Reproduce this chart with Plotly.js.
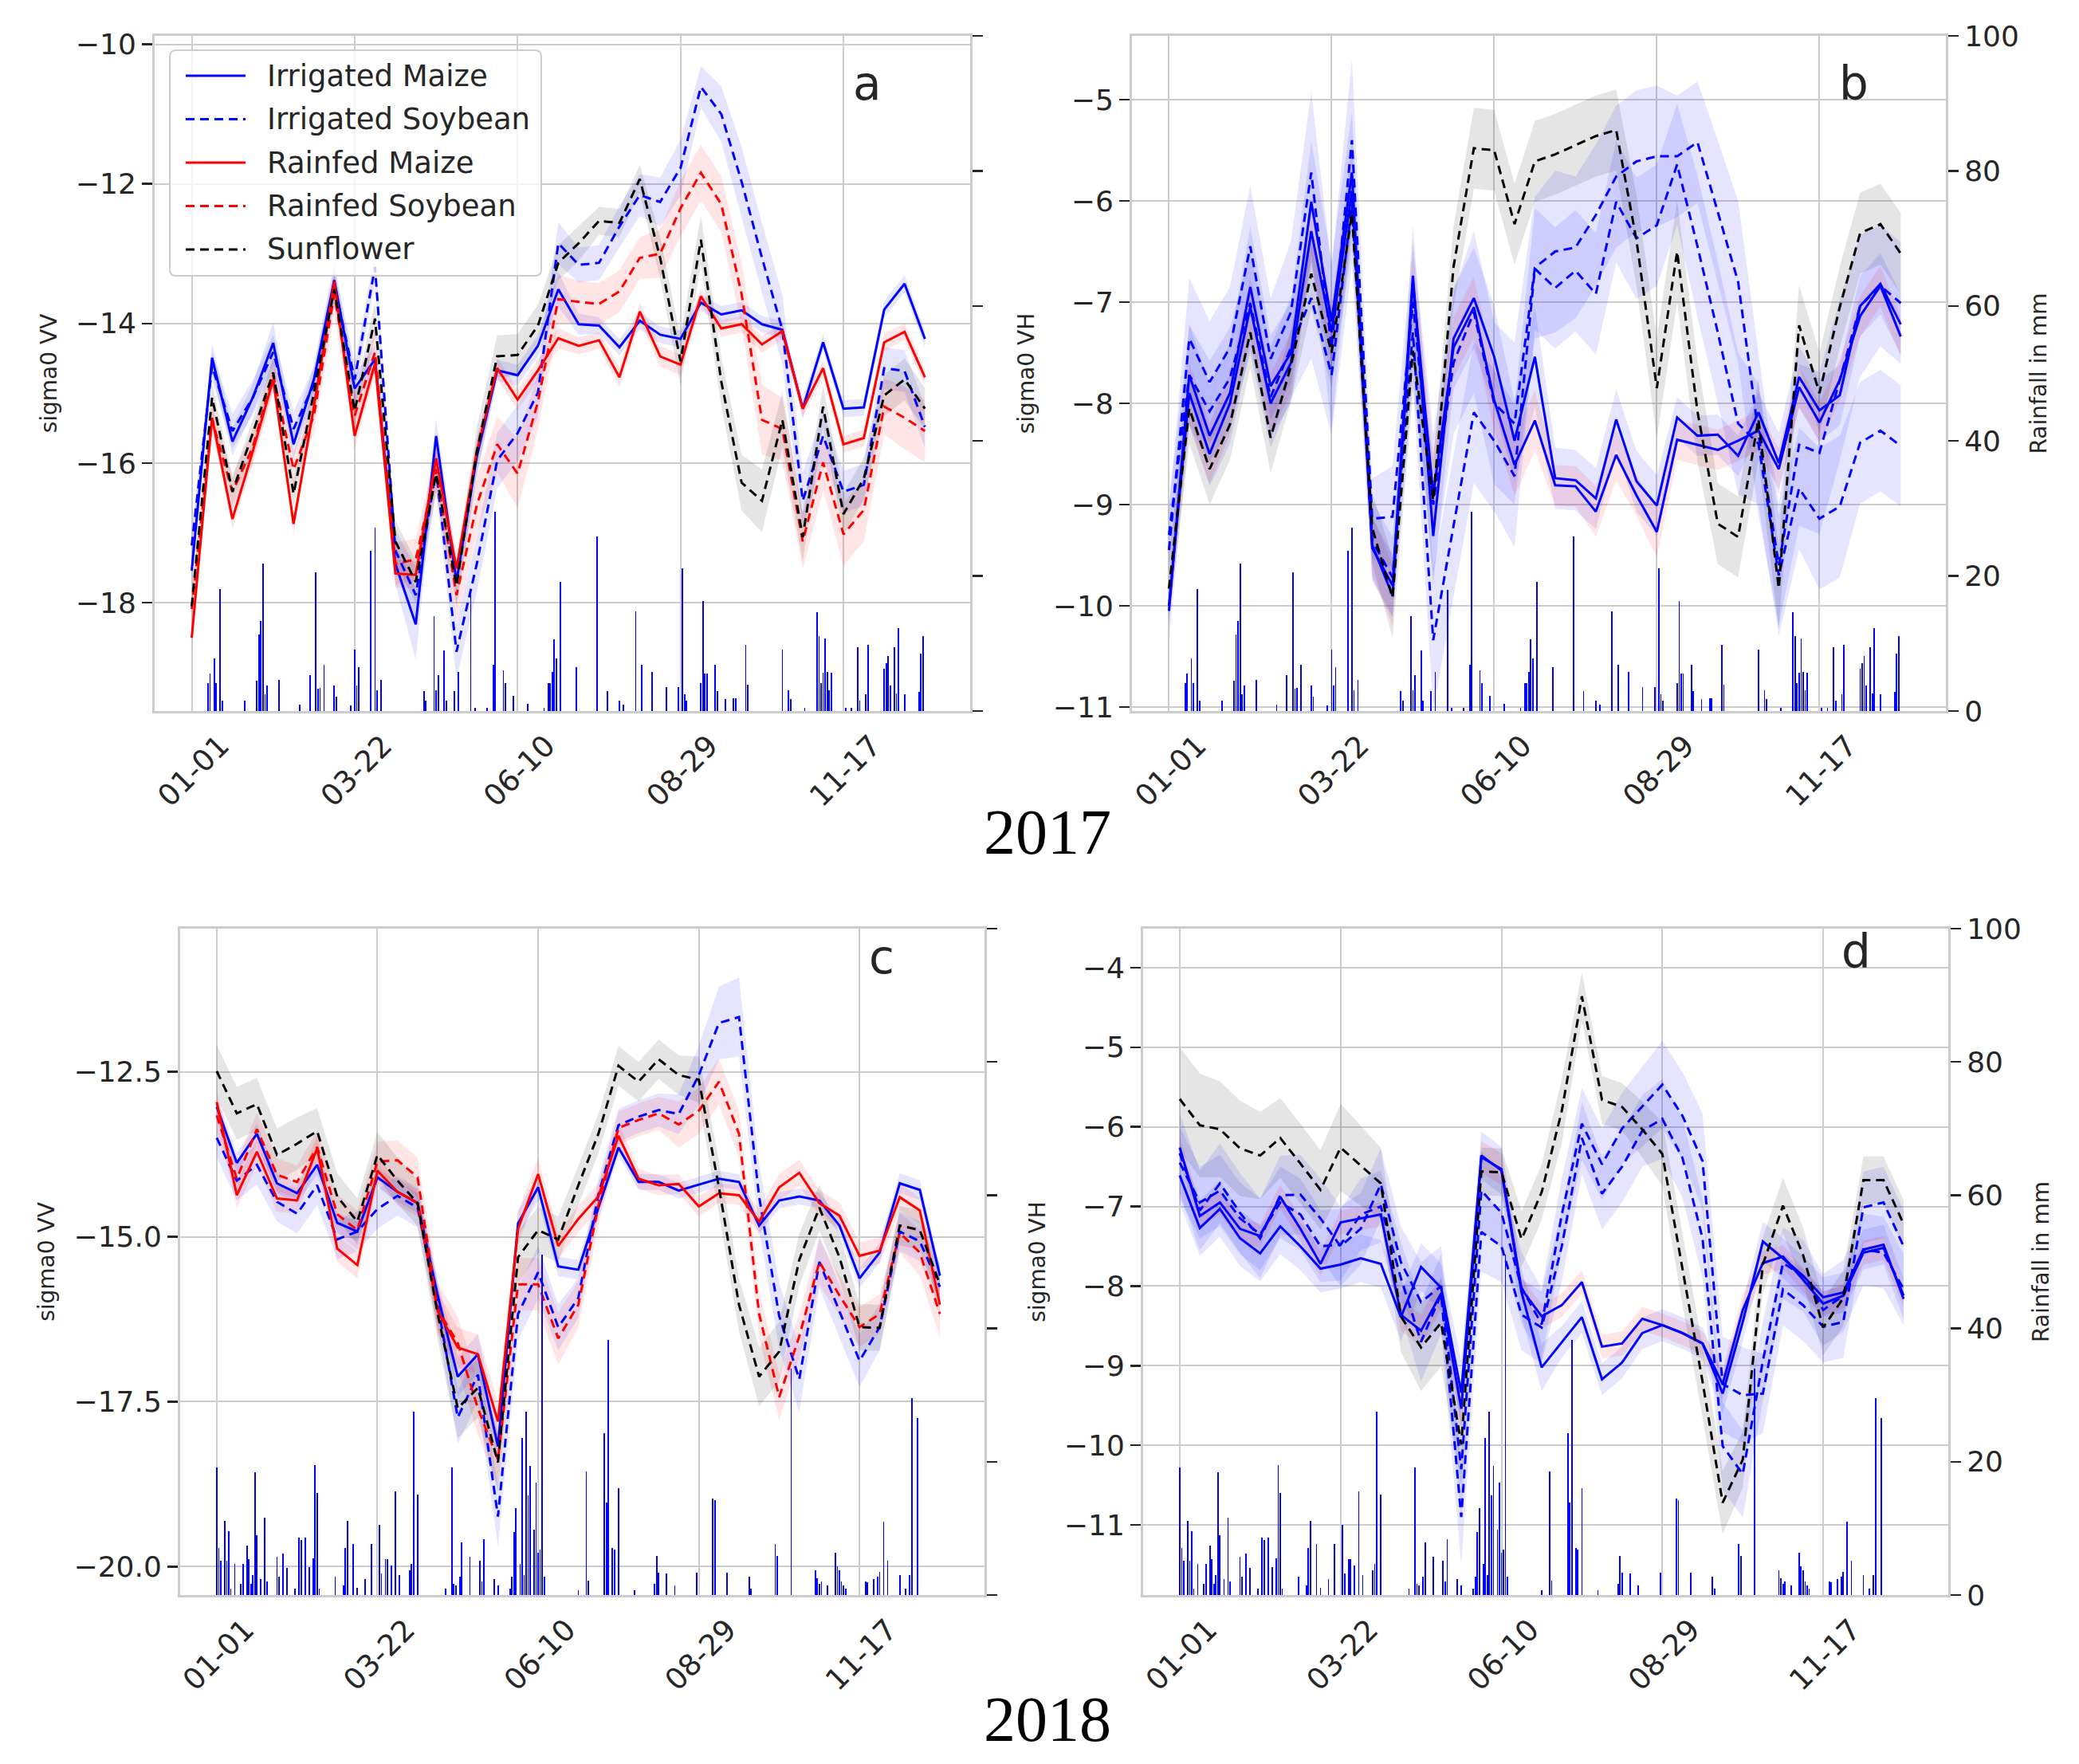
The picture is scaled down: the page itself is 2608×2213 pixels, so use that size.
<!DOCTYPE html>
<html>
<head>
<meta charset="utf-8">
<script src="https://cdn.plot.ly/plotly-3.0.1.min.js"></script>
<style>
  html, body { margin: 0; padding: 0; background: #fff; }
  #chart { width: 2608px; height: 2213px; }
</style>
</head>
<body>
<div id="chart"></div>
<script>
'use strict';

// day of year of each composite (10-day steps)
const dates = [0,10,20,30,40,50,60,70,80,90,100,110,120,130,140,150,160,170,180,190,200,210,220,230,240,250,260,270,280,290,300,310,320,330,340,350,360];
const tickDays = [0, 80, 160, 240, 320];
const tickText = ['01-01', '03-22', '06-10', '08-29', '11-17'];

// ---- 2017, sigma0 VV (panel a)
const a_im = [-17.54,-14.49,-15.69,-15.06,-14.28,-15.73,-14.80,-13.38,-14.93,-14.51,-17.44,-18.31,-15.61,-17.70,-15.90,-14.67,-14.74,-14.32,-13.51,-14.01,-14.03,-14.34,-13.96,-14.16,-14.22,-13.70,-13.87,-13.81,-14.01,-14.09,-15.22,-14.27,-15.22,-15.20,-13.80,-13.43,-14.22];
const a_is = [-17.18,-14.61,-15.54,-15.06,-14.41,-15.51,-14.87,-13.45,-14.80,-13.19,-17.25,-17.89,-16.09,-18.70,-17.44,-15.96,-15.57,-14.99,-12.85,-13.16,-13.13,-12.61,-12.16,-12.26,-11.77,-10.61,-11.00,-11.97,-13.06,-14.09,-16.54,-15.61,-16.41,-16.31,-14.64,-14.68,-15.48];
const a_rm = [-18.50,-15.35,-16.80,-15.83,-14.80,-16.87,-15.19,-13.40,-15.61,-14.57,-17.58,-17.60,-15.93,-17.51,-15.83,-14.64,-15.09,-14.67,-14.21,-14.32,-14.24,-14.77,-13.83,-14.47,-14.59,-13.61,-14.07,-14.01,-14.30,-14.11,-15.22,-14.64,-15.73,-15.64,-14.27,-14.12,-14.77];
const a_rs = [-18.09,-15.38,-16.41,-15.77,-14.74,-16.09,-15.32,-13.58,-15.32,-14.41,-17.44,-17.38,-16.09,-17.89,-16.60,-15.73,-16.15,-15.12,-13.65,-13.69,-13.72,-13.54,-13.06,-13.00,-12.35,-11.84,-12.29,-13.58,-15.38,-15.51,-17.12,-15.99,-17.02,-16.67,-15.19,-15.35,-15.54];
const a_sf = [-18.05,-15.06,-16.41,-15.57,-14.70,-16.44,-14.99,-13.51,-15.25,-13.93,-17.12,-17.70,-16.15,-17.76,-15.83,-14.47,-14.45,-14.03,-13.13,-12.85,-12.53,-12.56,-11.93,-13.06,-14.54,-12.80,-14.83,-16.28,-16.54,-15.38,-17.06,-15.19,-16.73,-16.22,-15.03,-14.80,-15.22];
const a_im_sd = [0.25,0.2,0.2,0.2,0.3,0.2,0.2,0.25,0.2,0.2,0.3,0.5,0.25,0.3,0.25,0.15,0.15,0.15,0.25,0.15,0.12,0.12,0.12,0.12,0.12,0.12,0.12,0.12,0.12,0.12,0.15,0.12,0.12,0.12,0.12,0.12,0.12];
const a_is_sd = [0.25,0.2,0.25,0.25,0.25,0.25,0.25,0.25,0.25,0.2,0.3,0.4,0.3,0.4,0.4,0.4,0.4,0.35,0.3,0.25,0.25,0.3,0.3,0.35,0.4,0.3,0.4,0.5,0.5,0.5,0.4,0.35,0.3,0.3,0.3,0.3,0.3];
const a_rm_sd = [0.15,0.15,0.15,0.15,0.15,0.15,0.15,0.15,0.2,0.15,0.2,0.2,0.2,0.2,0.2,0.15,0.15,0.15,0.15,0.12,0.12,0.15,0.12,0.15,0.15,0.12,0.12,0.12,0.12,0.12,0.12,0.12,0.12,0.12,0.12,0.12,0.12];
const a_rs_sd = [0.25,0.2,0.25,0.25,0.25,0.25,0.25,0.3,0.3,0.3,0.3,0.3,0.3,0.4,0.4,0.4,0.5,0.4,0.35,0.3,0.3,0.3,0.3,0.35,0.4,0.4,0.4,0.45,0.5,0.45,0.4,0.4,0.45,0.45,0.4,0.45,0.45];
const a_sf_sd = [0.2,0.2,0.2,0.2,0.2,0.2,0.2,0.2,0.2,0.25,0.3,0.3,0.3,0.3,0.35,0.3,0.3,0.3,0.25,0.25,0.2,0.2,0.2,0.3,0.35,0.35,0.35,0.4,0.45,0.4,0.35,0.3,0.3,0.3,0.3,0.3,0.3];

// ---- 2017, sigma0 VH (panel b)
const b_im = [-10.05,-7.72,-8.32,-7.90,-6.85,-7.83,-7.50,-6.01,-7.19,-5.72,-9.43,-9.80,-6.74,-9.31,-7.36,-6.96,-7.54,-8.37,-7.54,-8.74,-8.76,-8.94,-8.16,-8.77,-9.01,-8.14,-8.32,-8.31,-8.52,-8.09,-8.59,-7.74,-8.07,-7.92,-7.04,-6.82,-7.22];
const b_is = [-9.45,-7.36,-7.79,-7.45,-6.45,-7.56,-7.10,-5.72,-7.45,-5.40,-9.14,-9.12,-7.00,-9.00,-7.60,-7.10,-8.00,-8.20,-6.66,-6.50,-6.46,-6.14,-5.76,-5.61,-5.56,-5.56,-5.42,-6.10,-6.80,-8.30,-9.60,-8.41,-8.49,-7.77,-7.04,-6.84,-7.01];
const b_rm = [-10.00,-7.90,-8.50,-8.00,-7.05,-8.00,-7.60,-6.30,-7.30,-5.90,-9.40,-9.90,-6.80,-8.90,-7.45,-7.05,-7.97,-8.61,-8.17,-8.81,-8.82,-9.07,-8.51,-8.91,-9.27,-8.36,-8.41,-8.46,-8.37,-8.27,-8.65,-7.84,-8.19,-7.77,-7.14,-6.84,-7.34];
const b_rs = [-9.30,-7.72,-8.08,-7.75,-7.01,-7.94,-7.45,-6.96,-7.72,-6.03,-9.36,-9.72,-7.30,-10.34,-9.21,-8.09,-8.37,-8.72,-6.67,-6.86,-6.69,-6.92,-6.01,-6.37,-6.24,-5.64,-6.45,-7.30,-8.20,-8.40,-9.70,-8.84,-9.14,-9.02,-8.39,-8.27,-8.42];
const b_sf = [-9.83,-8.05,-8.65,-8.21,-7.30,-8.34,-7.63,-6.72,-7.50,-6.12,-9.23,-9.92,-7.48,-8.96,-6.65,-5.48,-5.50,-6.23,-5.61,-5.54,-5.45,-5.36,-5.30,-6.39,-7.85,-6.50,-8.08,-9.19,-9.32,-8.16,-9.83,-7.23,-7.90,-7.05,-6.32,-6.23,-6.52];
const b_im_sd = [0.3,0.5,0.5,0.5,0.6,0.5,0.5,0.6,0.6,0.6,0.3,0.3,0.5,0.5,0.5,0.5,0.5,0.4,0.5,0.3,0.3,0.3,0.3,0.3,0.3,0.2,0.2,0.2,0.2,0.2,0.3,0.3,0.3,0.3,0.3,0.3,0.3];
const b_is_sd = [0.4,0.6,0.6,0.6,0.6,0.6,0.7,0.8,0.8,0.8,0.4,0.5,0.6,0.7,0.7,0.8,0.8,0.8,0.7,0.8,0.7,0.7,0.7,0.7,0.7,0.6,0.6,0.7,0.8,0.8,0.6,0.8,0.8,0.8,0.7,0.6,0.6];
const b_rm_sd = [0.2,0.3,0.3,0.3,0.3,0.3,0.3,0.3,0.3,0.3,0.3,0.3,0.3,0.4,0.3,0.3,0.3,0.3,0.3,0.2,0.2,0.25,0.25,0.2,0.25,0.2,0.2,0.2,0.2,0.2,0.2,0.2,0.2,0.2,0.2,0.2,0.2];
const b_rs_sd = [0.3,0.5,0.5,0.5,0.5,0.5,0.5,0.6,0.6,0.6,0.4,0.4,0.5,0.7,0.7,0.7,0.7,0.7,0.6,0.6,0.6,0.6,0.6,0.6,0.6,0.6,0.7,0.7,0.7,0.6,0.6,0.6,0.7,0.7,0.6,0.6,0.6];
const b_sf_sd = [0.3,0.35,0.35,0.35,0.35,0.35,0.35,0.35,0.35,0.35,0.35,0.4,0.4,0.4,0.4,0.4,0.4,0.4,0.4,0.4,0.4,0.4,0.4,0.45,0.5,0.5,0.5,0.4,0.4,0.4,0.4,0.4,0.4,0.4,0.4,0.4,0.4];

// ---- 2018, sigma0 VV (panel c)
const c_im = [-13.03,-13.88,-13.44,-14.19,-14.34,-13.91,-14.79,-14.92,-14.10,-14.32,-14.49,-15.89,-17.12,-16.78,-18.18,-14.80,-14.25,-15.45,-15.50,-14.56,-13.65,-14.17,-14.17,-14.30,-14.21,-14.12,-14.17,-14.83,-14.45,-14.39,-14.45,-14.83,-15.63,-15.24,-14.19,-14.29,-15.59];
const c_is = [-13.50,-14.15,-13.91,-14.47,-14.65,-14.22,-15.04,-14.92,-14.58,-14.38,-14.56,-16.03,-17.74,-17.09,-19.24,-16.17,-15.54,-16.37,-15.93,-14.36,-13.31,-13.18,-13.08,-13.14,-12.55,-11.76,-11.67,-14.39,-16.20,-17.16,-15.38,-16.13,-16.88,-16.37,-14.92,-15.07,-15.76];
const c_rm = [-12.96,-14.37,-13.71,-14.42,-14.45,-13.66,-15.18,-15.43,-14.00,-14.32,-14.49,-16.13,-16.68,-16.78,-17.80,-14.88,-14.05,-15.14,-14.73,-14.39,-13.47,-14.12,-14.22,-14.20,-14.54,-14.34,-14.37,-14.77,-14.25,-14.03,-14.49,-14.68,-15.29,-15.21,-14.40,-14.60,-16.03];
const c_rs = [-13.16,-14.12,-13.37,-14.06,-14.17,-13.64,-14.66,-14.90,-13.86,-13.84,-14.10,-16.10,-16.61,-17.60,-18.38,-15.72,-15.72,-16.54,-16.03,-14.53,-13.35,-13.23,-13.13,-13.30,-13.09,-12.65,-13.44,-16.17,-17.43,-16.51,-15.38,-15.89,-16.37,-16.17,-14.94,-15.24,-16.17];
const c_sf = [-12.49,-13.13,-12.99,-13.76,-13.59,-13.40,-14.39,-14.77,-13.76,-14.15,-14.49,-16.17,-17.60,-17.29,-18.42,-15.31,-14.90,-15.04,-14.22,-13.44,-12.41,-12.65,-12.31,-12.55,-12.62,-14.25,-16.03,-17.12,-16.74,-15.35,-14.56,-15.31,-16.37,-16.38,-14.83,-14.90,-15.72];
const c_im_sd = [0.15,0.15,0.15,0.15,0.15,0.15,0.15,0.15,0.15,0.15,0.15,0.2,0.3,0.3,0.3,0.2,0.2,0.15,0.15,0.15,0.12,0.12,0.12,0.12,0.12,0.12,0.12,0.12,0.12,0.12,0.12,0.12,0.15,0.15,0.15,0.15,0.15];
const c_is_sd = [0.3,0.3,0.3,0.3,0.3,0.3,0.3,0.3,0.3,0.3,0.3,0.35,0.4,0.4,0.45,0.4,0.4,0.35,0.3,0.25,0.25,0.25,0.25,0.3,0.45,0.55,0.6,0.5,0.5,0.5,0.4,0.4,0.4,0.35,0.3,0.3,0.3];
const c_rm_sd = [0.2,0.2,0.2,0.2,0.2,0.2,0.2,0.2,0.2,0.2,0.2,0.3,0.3,0.3,0.3,0.25,0.25,0.2,0.2,0.2,0.2,0.15,0.15,0.15,0.15,0.15,0.15,0.2,0.2,0.2,0.2,0.2,0.2,0.2,0.2,0.2,0.25];
const c_rs_sd = [0.25,0.25,0.25,0.25,0.25,0.25,0.3,0.3,0.3,0.3,0.3,0.4,0.4,0.4,0.4,0.4,0.4,0.4,0.35,0.3,0.25,0.25,0.25,0.35,0.35,0.35,0.35,0.35,0.35,0.35,0.35,0.3,0.3,0.3,0.3,0.35,0.35];
const c_sf_sd = [0.4,0.4,0.4,0.4,0.4,0.35,0.35,0.35,0.35,0.35,0.35,0.4,0.45,0.45,0.45,0.4,0.35,0.35,0.3,0.3,0.3,0.3,0.3,0.3,0.35,0.4,0.4,0.45,0.45,0.4,0.35,0.35,0.35,0.35,0.3,0.3,0.3];

// ---- 2018, sigma0 VH (panel d)
const d_im = [-6.61,-7.27,-7.03,-7.40,-7.59,-7.25,-7.50,-7.78,-7.73,-7.65,-7.72,-8.39,-7.76,-8.02,-9.34,-6.36,-6.55,-8.08,-9.02,-8.70,-8.39,-9.17,-8.96,-8.59,-8.49,-8.59,-8.72,-9.35,-8.45,-7.44,-7.65,-7.87,-8.14,-8.08,-7.54,-7.48,-8.16];
const d_is = [-6.33,-7.05,-6.71,-7.08,-7.40,-6.86,-6.85,-7.15,-7.50,-7.28,-6.72,-7.70,-8.20,-8.00,-10.30,-6.80,-7.08,-8.02,-8.48,-7.10,-5.96,-6.47,-6.02,-5.75,-5.47,-5.86,-6.43,-9.23,-9.37,-9.35,-8.04,-8.24,-8.51,-8.45,-7.01,-6.95,-7.50];
const d_rm = [-6.26,-7.12,-6.95,-7.28,-7.37,-6.88,-7.28,-7.72,-7.20,-7.15,-7.10,-8.36,-8.56,-8.09,-9.54,-6.38,-6.53,-8.04,-8.38,-8.24,-7.95,-8.76,-8.72,-8.41,-8.49,-8.59,-8.72,-9.23,-8.30,-7.71,-7.63,-7.92,-8.22,-8.12,-7.58,-7.52,-8.12];
const d_rs = [-6.45,-6.95,-6.80,-7.15,-7.35,-6.95,-7.10,-7.50,-7.48,-7.10,-7.00,-7.90,-8.70,-8.10,-10.90,-7.32,-7.50,-8.36,-8.52,-7.50,-6.14,-6.84,-6.50,-6.05,-5.90,-6.39,-7.40,-10.01,-10.36,-8.94,-7.71,-7.87,-8.30,-8.12,-7.54,-7.58,-8.04];
const d_sf = [-5.65,-5.98,-6.03,-6.27,-6.36,-6.14,-6.46,-6.79,-6.26,-6.49,-6.71,-8.38,-8.77,-8.46,-9.99,-6.56,-6.57,-7.41,-6.82,-5.80,-4.36,-5.66,-5.75,-6.03,-6.34,-7.78,-9.20,-10.72,-10.18,-7.73,-6.99,-7.61,-8.52,-8.15,-6.67,-6.67,-7.22];
const d_im_sd = [0.35,0.35,0.35,0.35,0.35,0.35,0.3,0.3,0.3,0.3,0.3,0.3,0.3,0.3,0.4,0.3,0.3,0.3,0.3,0.2,0.2,0.2,0.2,0.2,0.2,0.2,0.2,0.25,0.25,0.25,0.25,0.25,0.25,0.25,0.25,0.25,0.25];
const d_is_sd = [0.5,0.5,0.5,0.5,0.5,0.5,0.5,0.5,0.5,0.45,0.45,0.45,0.5,0.5,0.6,0.5,0.45,0.45,0.45,0.45,0.45,0.45,0.45,0.5,0.55,0.55,0.6,0.6,0.6,0.5,0.45,0.45,0.45,0.45,0.45,0.45,0.45];
const d_rm_sd = [0.15,0.15,0.15,0.15,0.15,0.15,0.15,0.15,0.15,0.15,0.15,0.2,0.2,0.2,0.25,0.2,0.2,0.15,0.15,0.15,0.15,0.15,0.15,0.15,0.15,0.15,0.15,0.2,0.2,0.15,0.15,0.15,0.15,0.15,0.15,0.15,0.15];
const d_rs_sd = [0.45,0.45,0.45,0.45,0.45,0.45,0.45,0.45,0.45,0.45,0.45,0.45,0.5,0.5,0.6,0.5,0.45,0.45,0.45,0.45,0.45,0.45,0.45,0.45,0.5,0.5,0.5,0.55,0.55,0.5,0.45,0.45,0.45,0.45,0.45,0.45,0.45];
const d_sf_sd = [0.65,0.65,0.6,0.6,0.55,0.5,0.5,0.5,0.55,0.5,0.45,0.45,0.55,0.55,0.5,0.3,0.3,0.35,0.35,0.4,0.3,0.3,0.3,0.35,0.4,0.45,0.45,0.4,0.35,0.35,0.35,0.35,0.35,0.35,0.3,0.3,0.3];

// ---- daily rainfall (mm), only rainy days listed
const rain2017Days = [8,9,11,12,14,15,26,32,33,34,35,36,37,43,53,58,61,62,63,65,70,71,78,80,81,82,88,90,91,93,114,115,119,120,121,124,125,129,131,137,139,145,148,149,153,154,158,165,173,175,176,177,178,179,181,189,199,204,210,212,218,221,226,233,239,241,242,243,250,251,252,253,257,258,262,266,267,272,273,290,293,294,301,307,308,309,310,311,312,313,314,321,324,327,328,331,332,340,341,342,343,345,346,347,350,357,358,359];
const rain2017Mm = [4.1,5.5,7.8,4.1,18.1,1.5,1.5,4.5,11.3,13.3,21.8,2.5,3.8,4.6,1,5.3,20.6,3.3,3.4,6.8,3.8,2.1,0.8,9.1,3.8,6.5,23.7,27.1,3.1,4.6,3,1.5,14.1,3.1,5.3,9,1.5,3,5.8,17.9,0.5,0.5,6.8,29.5,6,4.1,2.3,1.1,0.5,4.1,4.1,5.8,10.6,7.8,19.1,6.5,25.9,3,1.5,1,14.7,6.8,5.8,3.5,3.5,21.1,2.5,1.5,4.1,16.3,5.5,5.6,6.8,3,1.8,1.9,1.9,9.8,3.9,9.1,3.1,1.8,0.5,14.6,11.1,4.1,5.7,10.8,5.8,3.1,5.7,0.5,0.5,9.5,1.5,2.5,9.8,6.3,7.1,8.1,3.8,9.5,2.6,12.3,2.5,2.8,8.5,11.1];
const rain2018Days = [0,1,2,4,5,6,7,9,12,13,15,16,17,18,19,20,22,24,25,30,31,33,35,39,41,42,44,46,48,49,50,51,59,63,64,65,68,70,74,77,81,82,84,85,87,89,91,96,97,98,100,114,117,118,119,121,122,126,131,132,133,138,140,146,147,148,149,151,152,153,154,155,156,158,159,160,161,162,163,180,184,185,193,194,195,197,198,200,208,218,219,220,224,228,239,247,248,254,265,266,278,279,286,298,299,300,301,304,308,309,310,311,312,313,323,324,327,329,330,332,334,340,343,345,346,349];
const rain2018Mm = [19.1,7.1,5.2,11.1,5.1,9.6,1.0,4.7,1.7,4.7,7.4,5.4,1.7,3.0,18.4,9.0,2.4,11.6,2.0,5.7,2.7,6.2,4.1,1.0,8.6,8.2,8.6,4.2,5.5,19.5,15.3,1.0,2.8,1.4,7.0,11.1,7.6,1.1,2.4,7.6,10.5,3.2,5.4,5.4,4.4,15.5,3.0,3.7,4.7,27.5,15.1,1.0,19.1,1.7,1.4,2.7,7.9,5.7,5.1,2.0,8.4,2.4,1.4,1.0,2.7,9.5,13.0,4.7,23.6,3.0,27.5,14.9,19.4,9.8,16.9,6.3,6.8,51.1,2.7,0.7,18.6,2.2,24.3,13.9,38.3,7.1,6.8,16.0,0.7,1.7,5.9,3.4,3.2,1.4,3.4,14.5,14.2,3.4,2.7,1.0,7.6,5.9,34.0,3.7,2.5,1.7,2.0,1.4,6.4,4.3,3.7,2.0,1.4,1.0,2.0,1.9,2.4,2.7,3.5,11.0,5.2,3.0,1.0,3.0,29.6,26.6];

const legendNames = ['Irrigated Maize', 'Irrigated Soybean', 'Rainfed Maize', 'Rainfed Soybean', 'Sunflower'];

const BLUE = '#0000ff', RED = '#ff0000', BLACK = '#000000';
const FILL_BLUE = 'rgba(0,0,255,0.1)', FILL_RED = 'rgba(255,0,0,0.1)', FILL_BLACK = 'rgba(0,0,0,0.1)';
const DASH = '11px,7px';
const TXT = '#262626';
const GRID = '#cccccc';

const traces = [];

// in the VH panels the rainfed lines are drawn blue; soybean bands stay blue there too
function panelStyles(vh) {
    return [
        { color: BLUE,              dash: 'solid', fill: FILL_BLUE },
        { color: BLUE,              dash: DASH,    fill: FILL_BLUE },
        { color: vh ? BLUE : RED,   dash: 'solid', fill: FILL_RED },
        { color: vh ? BLUE : RED,   dash: DASH,    fill: vh ? FILL_BLUE : FILL_RED },
        { color: BLACK,             dash: DASH,    fill: FILL_BLACK }
    ];
}

function addPanel(xa, ya, yr, means, sds, vh, rainDays, rainMm) {
    const st = panelStyles(vh);
    means.forEach(function(m, k) {
        const sd = sds[k];
        traces.push({
            x: dates, y: m.map((v, i) => v - sd[i]), xaxis: xa, yaxis: ya,
            mode: 'lines', line: { width: 0 }, hoverinfo: 'skip', showlegend: false
        });
        traces.push({
            x: dates, y: m.map((v, i) => v + sd[i]), xaxis: xa, yaxis: ya,
            mode: 'lines', line: { width: 0 }, fill: 'tonexty', fillcolor: st[k].fill,
            hoverinfo: 'skip', showlegend: false
        });
    });
    means.forEach(function(m, k) {
        traces.push({
            x: dates, y: m, xaxis: xa, yaxis: ya, name: legendNames[k],
            mode: 'lines', line: { color: st[k].color, width: 3, dash: st[k].dash },
            showlegend: false
        });
    });
    traces.push({
        type: 'bar', x: rainDays, y: rainMm, xaxis: xa, yaxis: yr,
        width: 0.7, marker: { color: BLUE, line: { width: 0 } }, showlegend: false
    });
}

addPanel('x', 'y', 'y2', [a_im, a_is, a_rm, a_rs, a_sf], [a_im_sd, a_is_sd, a_rm_sd, a_rs_sd, a_sf_sd], false, rain2017Days, rain2017Mm);
addPanel('x2', 'y3', 'y4', [b_im, b_is, b_rm, b_rs, b_sf], [b_im_sd, b_is_sd, b_rm_sd, b_rs_sd, b_sf_sd], true, rain2017Days, rain2017Mm);
addPanel('x3', 'y5', 'y6', [c_im, c_is, c_rm, c_rs, c_sf], [c_im_sd, c_is_sd, c_rm_sd, c_rs_sd, c_sf_sd], false, rain2018Days, rain2018Mm);
addPanel('x4', 'y7', 'y8', [d_im, d_is, d_rm, d_rs, d_sf], [d_im_sd, d_is_sd, d_rm_sd, d_rs_sd, d_sf_sd], true, rain2018Days, rain2018Mm);

const W = 2608, H = 2213;
const fx = px => px / W;
const fy = px => 1 - px / H;

function xAxis(l, r, anchor) {
    return {
        domain: [fx(l), fx(r)], anchor: anchor, range: [-18.2, 382.2],
        tickvals: tickDays, ticktext: tickText, tickangle: -45,
        ticklabelshift: 36, ticklabelstandoff: 4,
        tickfont: { family: 'DejaVu Sans', size: 37, color: TXT },
        showgrid: true, gridcolor: GRID, gridwidth: 2, zeroline: false,
        showline: true, mirror: true, linecolor: GRID, linewidth: 3,
        ticks: '', automargin: false
    };
}
function leftAxis(t, b, anchor, range, tickvals, fmt, title) {
    return {
        domain: [fy(b), fy(t)], anchor: anchor, range: range,
        tickvals: tickvals, tickformat: fmt,
        tickfont: { family: 'DejaVu Sans', size: 36, color: TXT },
        ticks: 'outside', ticklen: 13, tickwidth: 2.5, tickcolor: TXT,
        showgrid: true, gridcolor: GRID, gridwidth: 2, zeroline: false,
        showline: true, linecolor: GRID, linewidth: 3, automargin: false,
        title: { text: title, font: { family: 'DejaVu Sans', size: 28, color: TXT }, standoff: 16 }
    };
}
function rightAxis(over, anchor, labels) {
    return {
        overlaying: over, side: 'right', anchor: anchor, range: [0, 100],
        tickvals: [0, 20, 40, 60, 80, 100], showticklabels: labels,
        tickfont: { family: 'DejaVu Sans', size: 36, color: TXT },
        ticks: 'outside', ticklen: 13, tickwidth: 2.5, tickcolor: TXT,
        showgrid: false, zeroline: false,
        showline: true, linecolor: GRID, linewidth: 3, automargin: false,
        title: labels ? { text: 'Rainfall in mm', font: { family: 'DejaVu Sans', size: 28, color: TXT }, standoff: 16 } : { text: '' }
    };
}

// legend box for panel a, drawn with shapes + text
const legendStyles = panelStyles(false);
const LEG = { l: 213, t: 63, r: 679, b: 346, r0: 8, y0: 95, step: 54.5, lineL: 233, lineR: 308, textL: 333 };
const shapes = [{
    type: 'path', xref: 'paper', yref: 'paper', layer: 'above',
    path: 'M' + fx(LEG.l + LEG.r0) + ',' + fy(LEG.t) + ' L' + fx(LEG.r - LEG.r0) + ',' + fy(LEG.t) +
          ' Q' + fx(LEG.r) + ',' + fy(LEG.t) + ' ' + fx(LEG.r) + ',' + fy(LEG.t + LEG.r0) +
          ' L' + fx(LEG.r) + ',' + fy(LEG.b - LEG.r0) +
          ' Q' + fx(LEG.r) + ',' + fy(LEG.b) + ' ' + fx(LEG.r - LEG.r0) + ',' + fy(LEG.b) +
          ' L' + fx(LEG.l + LEG.r0) + ',' + fy(LEG.b) +
          ' Q' + fx(LEG.l) + ',' + fy(LEG.b) + ' ' + fx(LEG.l) + ',' + fy(LEG.b - LEG.r0) +
          ' L' + fx(LEG.l) + ',' + fy(LEG.t + LEG.r0) +
          ' Q' + fx(LEG.l) + ',' + fy(LEG.t) + ' ' + fx(LEG.l + LEG.r0) + ',' + fy(LEG.t) + ' Z',
    fillcolor: 'rgba(255,255,255,0.8)', line: { color: GRID, width: 2 }
}];
const annotations = [];
legendNames.forEach(function(name, k) {
    const yy = fy(LEG.y0 + k * LEG.step);
    shapes.push({
        type: 'line', xref: 'paper', yref: 'paper', layer: 'above',
        x0: fx(LEG.lineL), x1: fx(LEG.lineR), y0: yy, y1: yy,
        line: { color: legendStyles[k].color, width: 3, dash: legendStyles[k].dash }
    });
    annotations.push({
        text: name, x: fx(LEG.textL), y: yy, xref: 'paper', yref: 'paper',
        xanchor: 'left', yanchor: 'middle', showarrow: false,
        font: { family: 'DejaVu Sans', size: 37, color: TXT }
    });
});

const letterFont = { family: 'DejaVu Sans', size: 58, color: TXT };
const yearFont = { family: 'Liberation Serif', size: 80, color: '#000000' };
[['a', 1088, 105], ['b', 2325, 105], ['c', 1106, 1201], ['d', 2328, 1194]].forEach(function(p) {
    annotations.push({ text: p[0], x: fx(p[1]), y: fy(p[2]), xref: 'paper', yref: 'paper',
        xanchor: 'center', yanchor: 'middle', showarrow: false, font: letterFont });
});
[['2017', 1314, 1044], ['2018', 1314, 2157]].forEach(function(p) {
    annotations.push({ text: p[0], x: fx(p[1]), y: fy(p[2]), xref: 'paper', yref: 'paper',
        xanchor: 'center', yanchor: 'middle', showarrow: false, font: yearFont });
});

const layout = {
    width: W, height: H,
    margin: { l: 0, r: 0, t: 0, b: 0 },
    paper_bgcolor: '#ffffff', plot_bgcolor: '#ffffff',
    font: { family: 'DejaVu Sans', color: TXT },
    barmode: 'overlay', bargap: 0,
    showlegend: false,
    xaxis:  xAxis(194, 1217, 'y'),
    xaxis2: xAxis(1420, 2441, 'y3'),
    xaxis3: xAxis(226, 1235, 'y5'),
    xaxis4: xAxis(1434, 2444, 'y7'),
    yaxis:  leftAxis(45, 892, 'x', [-19.55, -9.88], [-10, -12, -14, -16, -18], '', 'sigma0 VV'),
    yaxis2: rightAxis('y', 'x', false),
    yaxis3: leftAxis(45, 892, 'x2', [-11.04, -4.37], [-5, -6, -7, -8, -9, -10, -11], '', 'sigma0 VH'),
    yaxis4: rightAxis('y3', 'x2', true),
    yaxis5: leftAxis(1165, 2001, 'x3', [-20.43, -10.33], [-12.5, -15, -17.5, -20], '.1f', 'sigma0 VV'),
    yaxis6: rightAxis('y5', 'x3', false),
    yaxis7: leftAxis(1165, 2001, 'x4', [-11.88, -3.51], [-4, -5, -6, -7, -8, -9, -10, -11], '', 'sigma0 VH'),
    yaxis8: rightAxis('y7', 'x4', true),
    shapes: shapes,
    annotations: annotations
};

Plotly.newPlot('chart', traces, layout, { displayModeBar: false, staticPlot: true });
</script>
</body>
</html>
